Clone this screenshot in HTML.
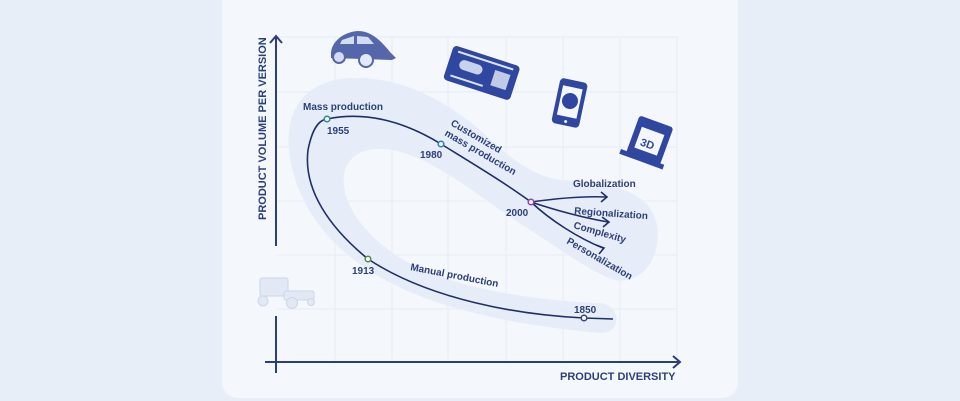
<!DOCTYPE html>
<html><head><meta charset="utf-8"><style>
html,body{margin:0;padding:0;width:960px;height:401px;overflow:hidden;background:#e7eef8;}
svg{display:block;font-family:"Liberation Sans",sans-serif;}
</style></head><body>
<svg width="960" height="401" viewBox="0 0 960 401" xmlns="http://www.w3.org/2000/svg">
<rect x="222" y="-14" width="516" height="412" rx="16" fill="#f4f8fc"/>
<!-- grid -->
<g stroke="#e8edf5" stroke-width="1">
<line x1="276" y1="37" x2="677" y2="37"/><line x1="276" y1="92" x2="677" y2="92"/>
<line x1="276" y1="147" x2="677" y2="147"/><line x1="276" y1="201" x2="677" y2="201"/>
<line x1="276" y1="255" x2="677" y2="255"/><line x1="276" y1="309" x2="677" y2="309"/>
<line x1="335" y1="37" x2="335" y2="362"/><line x1="392" y1="37" x2="392" y2="362"/>
<line x1="448" y1="37" x2="448" y2="362"/><line x1="506" y1="37" x2="506" y2="362"/>
<line x1="563" y1="37" x2="563" y2="362"/><line x1="620" y1="37" x2="620" y2="362"/>
<line x1="677" y1="37" x2="677" y2="362"/>
</g>
<!-- band -->
<path d="M600,333 C520,326 440,310 385,280 C330,250 295,205 289,150 C285,105 310,80 350,78 C400,76 445,100 480,130 C510,158 530,175 560,180 C610,182 650,190 657,225 C662,260 640,285 615,280 C590,272 565,252 530,230 C490,205 450,170 410,155 C375,142 348,150 344,175 C341,205 365,235 400,258 C445,285 520,300 600,303 C622,305 622,334 600,333Z" fill="#e6edf8"/>
<!-- axes -->
<g stroke="#2d3f7a" stroke-width="2" fill="none">
<line x1="276" y1="37" x2="276" y2="246"/>
<line x1="276" y1="316" x2="276" y2="373"/>
<path d="M270,43 L276,36 L282,43"/>
<line x1="265" y1="362" x2="679" y2="362"/>
<path d="M673,356 L680,362 L673,368"/>
</g>
<!-- curve -->
<g stroke="#1f2f66" stroke-width="1.6" fill="none">
<path d="M613,319 L584,318 C520,315 430,300 368,259 C330,228 303,190 308,150 C312,130 318,120 327,119 C370,110 410,125 441,144 C475,165 505,183 531,202"/>
<path d="M531,202 C560,198 585,196 606,197"/><path d="M601,192 L607,197 L601,202"/>
<path d="M531,202 C555,210 585,218 608,222"/><path d="M602,217 L609,222 L603,227"/>
<path d="M531,202 C550,220 578,238 603,248"/><path d="M596,245 L604,248 L599,254"/>
</g>
<g stroke-width="1.5" fill="#f4f8fc">
<circle cx="327" cy="119" r="2.8" stroke="#2e8a7c"/>
<circle cx="441" cy="144" r="2.8" stroke="#2d7fa8"/>
<circle cx="531" cy="202" r="2.8" stroke="#9a3fb0"/>
<circle cx="368" cy="259" r="2.8" stroke="#5d8a3a"/>
<circle cx="584" cy="318" r="2.8" stroke="#3a4775"/>
</g>
<!-- labels -->
<g fill="#2d3f7a" font-weight="bold" font-size="10">
<text x="303" y="110">Mass production</text>
<text x="327" y="134">1955</text>
<text x="420" y="158">1980</text>
<text x="506" y="216">2000</text>
<text x="352" y="274">1913</text>
<text x="574" y="313">1850</text>
<text x="573" y="187">Globalization</text>
<text x="574" y="214" transform="rotate(4 574 214)">Regionalization</text>
<text x="573" y="228" transform="rotate(16 573 228)">Complexity</text>
<text x="566" y="243" transform="rotate(30 566 243)">Personalization</text>
<text x="410" y="270" transform="rotate(11 410 270)">Manual production</text>
<text x="450" y="125" transform="rotate(30 450 125)">Customized</text>
<text x="444" y="135" transform="rotate(30 444 135)">mass production</text>
<text x="560" y="380" font-size="11">PRODUCT DIVERSITY</text>
<text x="266" y="220" font-size="11" transform="rotate(-90 266 220)">PRODUCT VOLUME PER VERSION</text>
</g>
<!-- beetle -->
<g fill="#5566ab">
<path d="M331,54 C331,42 343,32 358,31 C372,31 382,42 390,52 L396,58 L392,60 L331,58Z"/>
<circle cx="339" cy="57" r="6" fill="#d4dcef" stroke="#5566ab" stroke-width="2"/>
<circle cx="366" cy="60" r="7" fill="#e2e8f4" stroke="#5566ab" stroke-width="2"/>
<path d="M342,40 L354,36 L354,44 L340,44Z M357,36 L368,37 L374,44 L357,44Z" fill="#d4dcef"/>
</g>
<!-- ticket -->
<g transform="rotate(18 482 72)">
<rect x="447" y="55" width="70" height="36" rx="4" fill="#2f47a0"/>
<rect x="458" y="66" width="24" height="10" rx="5" fill="#c8d2ec"/>
<rect x="494" y="66" width="16" height="16" fill="#e6ecf8" opacity=".8"/>
<rect x="453" y="59" width="58" height="2" fill="#dbe3f4"/>
<rect x="453" y="84" width="34" height="2" fill="#dbe3f4"/>
</g>
<!-- phone -->
<g transform="rotate(12 570 101)">
<rect x="556" y="80" width="28" height="46" rx="4" fill="#2f47a0"/>
<rect x="560" y="87" width="20" height="30" fill="#f4f8fc"/>
<circle cx="570" cy="101" r="8" fill="#2f47a0"/>
<circle cx="570" cy="122" r="1.5" fill="#f4f8fc"/>
</g>
<!-- 3d printer -->
<g transform="rotate(20 648 145)">
<rect x="630" y="120" width="36" height="40" rx="3" fill="#2f47a0"/>
<rect x="636" y="130" width="24" height="22" fill="#f4f8fc"/>
<text x="640" y="148" font-size="11" font-weight="bold" fill="#2f47a0">3D</text>
<rect x="624" y="158" width="46" height="5" fill="#2f47a0"/>
</g>
<!-- old car -->
<g fill="#e3e9f4" stroke="#cdd6e8" stroke-width="1">
<rect x="260" y="278" width="28" height="18" rx="2"/>
<rect x="284" y="291" width="30" height="9" rx="2"/>
<circle cx="263" cy="301" r="5"/><circle cx="292" cy="303" r="5.5"/><circle cx="311" cy="302" r="3.5"/>
</g>
</svg>
</body></html>
